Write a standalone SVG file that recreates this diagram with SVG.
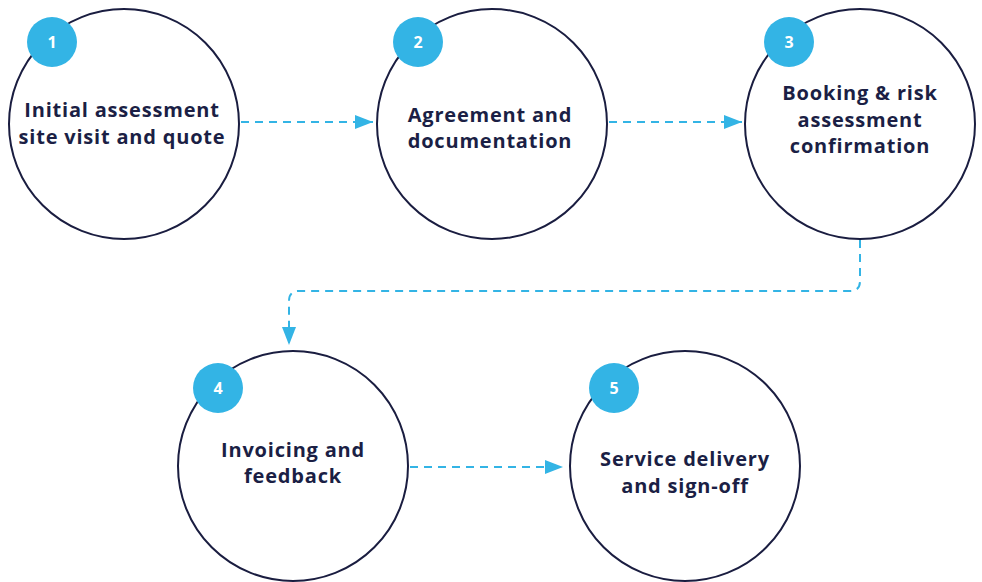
<svg xmlns="http://www.w3.org/2000/svg" width="982" height="582" viewBox="0 0 982 582">
<style>
.ring{fill:#fff;stroke:#1a1d40;stroke-width:2}
.badge{fill:#33b4e5}
.num{fill:#fff;font-family:"Open Sans",sans-serif;font-weight:700;font-size:16px;text-anchor:middle}
.lbl{fill:#1b1f45;font-family:"Open Sans",sans-serif;font-weight:700;font-size:20px;letter-spacing:0.8px;text-anchor:middle}
.conn{fill:none;stroke:#33b4e5;stroke-width:2;stroke-dasharray:8 6}
</style>
<defs>
<marker id="ah" viewBox="0 0 18 14" refX="18" refY="7" markerWidth="18" markerHeight="14" markerUnits="userSpaceOnUse" orient="auto">
<path d="M0,0 L18,7 L0,14 Z" fill="#33b4e5"/>
</marker>
</defs>
<rect width="982" height="582" fill="#fff"/>
<g id="connectors">
<path class="conn" d="M241,122 H373" marker-end="url(#ah)"/>
<path class="conn" d="M609,122 H742" marker-end="url(#ah)"/>
<path class="conn" d="M860,240 V281 Q860,291 850,291 H299 Q289,291 289,301 V345" marker-end="url(#ah)"/>
<path class="conn" d="M410,467 H563" marker-end="url(#ah)"/>
</g>
<g id="node1">
<circle class="ring" cx="124" cy="124" r="115"/>
<circle class="badge" cx="52" cy="42" r="25"/>
<text class="num" x="52" y="48">1</text>
<text class="lbl" x="122" y="117">Initial assessment</text>
<text class="lbl" x="122" y="144">site visit and quote</text>
</g>
<g id="node2">
<circle class="ring" cx="492" cy="124" r="115"/>
<circle class="badge" cx="418" cy="42" r="25"/>
<text class="num" x="418" y="48">2</text>
<text class="lbl" x="490" y="122">Agreement and</text>
<text class="lbl" x="490" y="148">documentation</text>
</g>
<g id="node3">
<circle class="ring" cx="860" cy="124" r="115"/>
<circle class="badge" cx="789" cy="42" r="25"/>
<text class="num" x="789" y="48">3</text>
<text class="lbl" x="860" y="100">Booking &amp; risk</text>
<text class="lbl" x="860" y="127">assessment</text>
<text class="lbl" x="860" y="153">confirmation</text>
</g>
<g id="node4">
<circle class="ring" cx="293" cy="466" r="115"/>
<circle class="badge" cx="218" cy="388" r="25"/>
<text class="num" x="218" y="394">4</text>
<text class="lbl" x="293" y="457">Invoicing and</text>
<text class="lbl" x="293" y="483">feedback</text>
</g>
<g id="node5">
<circle class="ring" cx="685" cy="466" r="115"/>
<circle class="badge" cx="614" cy="388" r="25"/>
<text class="num" x="614" y="394">5</text>
<text class="lbl" x="685" y="466">Service delivery</text>
<text class="lbl" x="685" y="493">and sign-off</text>
</g>
</svg>
